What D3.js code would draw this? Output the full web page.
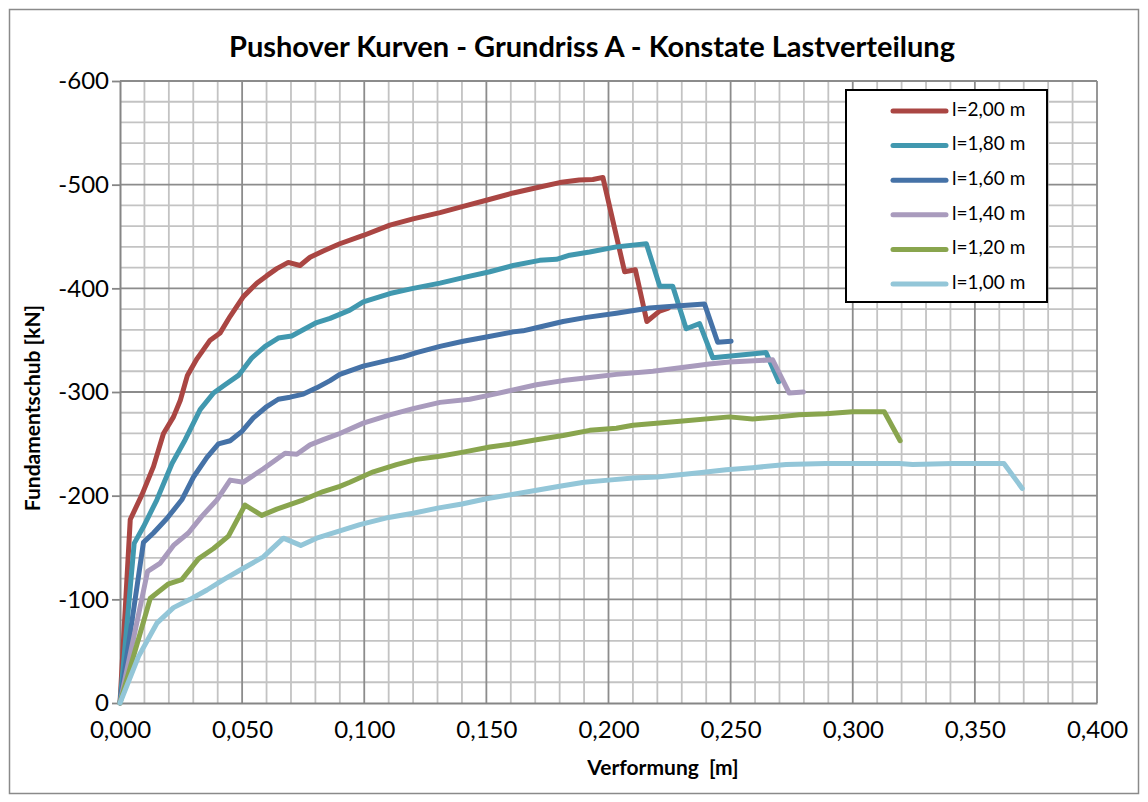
<!DOCTYPE html>
<html>
<head>
<meta charset="utf-8">
<script src="https://cdn.jsdelivr.net/npm/d3@7.9.0/dist/d3.min.js"></script>
<style>
  html, body { margin: 0; padding: 0; background: #fff; }
  svg { display: block; font-family: 'Lato', 'Open Sans', sans-serif; }
</style>
</head>
<body>
<svg id="chart" width="1148" height="802"></svg>
<script>
// Pushover curves: [Verformung m, Fundamentschub kN]
const curveL200 = [
  [0, 0], [0.0042, -177], [0.009, -201], [0.0137, -228], [0.0178, -260], [0.0219, -276],
  [0.0247, -292], [0.0276, -316], [0.0315, -332], [0.0369, -350], [0.041, -357], [0.0451, -373],
  [0.0505, -392], [0.056, -405], [0.060, -412], [0.0642, -419], [0.0689, -425], [0.0737, -422],
  [0.0778, -430], [0.0832, -436], [0.090, -443], [0.0996, -451], [0.1105, -461], [0.120, -467],
  [0.131, -473], [0.1405, -479], [0.150, -485], [0.161, -492], [0.1705, -497], [0.180, -502],
  [0.188, -504.5], [0.1936, -505], [0.1977, -507], [0.2066, -416], [0.211, -418], [0.2157, -368],
  [0.2209, -378], [0.2245, -381]
];
const curveL180 = [
  [0, 0], [0.0058, -154], [0.0096, -170], [0.0151, -196], [0.0213, -231], [0.0267, -254],
  [0.0328, -283], [0.0383, -299], [0.043, -307], [0.0485, -316], [0.054, -333], [0.0594, -344],
  [0.0648, -352], [0.0703, -354], [0.075, -360], [0.0805, -367], [0.086, -371], [0.0941, -379],
  [0.0996, -387], [0.1105, -395], [0.120, -400], [0.131, -405], [0.1419, -411], [0.1514, -416],
  [0.161, -422], [0.1718, -427], [0.1787, -428], [0.1841, -432], [0.1923, -435], [0.2032, -440],
  [0.2155, -443], [0.221, -402], [0.2263, -402], [0.2318, -361], [0.2373, -366], [0.2427, -333],
  [0.2645, -338], [0.2697, -310]
];
const curveL160 = [
  [0, 0], [0.0096, -155], [0.0137, -164], [0.0192, -178], [0.0253, -196], [0.0301, -218],
  [0.0356, -237], [0.0403, -250], [0.0451, -253], [0.0499, -262], [0.0546, -275], [0.0601, -286],
  [0.0648, -293], [0.0696, -295], [0.0751, -298], [0.0805, -304], [0.086, -311], [0.09, -317],
  [0.0996, -325], [0.1105, -331], [0.116, -334], [0.1214, -338], [0.131, -344], [0.1405, -349],
  [0.150, -353], [0.161, -358], [0.165, -359], [0.1705, -362], [0.1814, -368], [0.191, -372],
  [0.2032, -376], [0.2168, -381], [0.2277, -383], [0.2393, -385], [0.2447, -348], [0.2502, -349]
];
const curveL140 = [
  [0, 0], [0.0113, -127], [0.0165, -135], [0.0219, -152], [0.028, -164], [0.0335, -180],
  [0.0397, -196], [0.0451, -215], [0.0505, -213], [0.0587, -226], [0.0676, -241], [0.0724, -240],
  [0.0778, -249], [0.0832, -254], [0.09, -260], [0.0996, -270], [0.1105, -278], [0.120, -284],
  [0.131, -290], [0.1432, -293], [0.1514, -297], [0.161, -302], [0.1705, -307], [0.1814, -311],
  [0.1923, -314], [0.2032, -317], [0.2182, -320], [0.2413, -327], [0.2495, -329], [0.2672, -331],
  [0.274, -299], [0.2798, -300]
];
const curveL120 = [
  [0, 0], [0.0124, -101], [0.0199, -115], [0.0253, -119], [0.0321, -139], [0.0383, -149],
  [0.0444, -161], [0.0512, -191], [0.058, -181], [0.0642, -187], [0.0751, -196], [0.0832, -204],
  [0.090, -209], [0.0941, -213], [0.1037, -223], [0.1132, -230], [0.1214, -235], [0.131, -238],
  [0.1405, -242], [0.1514, -247], [0.161, -250], [0.1705, -254], [0.1814, -258], [0.1923, -263],
  [0.2032, -265], [0.21, -268], [0.2304, -272], [0.2495, -276], [0.259, -274], [0.2699, -276],
  [0.278, -278], [0.289, -279], [0.2999, -281], [0.3129, -281], [0.3194, -253]
];
const curveL100 = [
  [0, 0], [0.0076, -45], [0.0151, -77], [0.0219, -92], [0.0287, -100], [0.0356, -109],
  [0.0424, -119], [0.0505, -130], [0.0587, -141], [0.0669, -159], [0.074, -152], [0.0805, -159],
  [0.0887, -165], [0.0982, -172], [0.11, -179], [0.12, -183], [0.13, -188], [0.14, -192],
  [0.15, -197], [0.16, -201], [0.17, -205], [0.18, -209], [0.19, -213], [0.2, -215],
  [0.21, -217], [0.22, -218], [0.2372, -222], [0.2482, -225], [0.259, -227], [0.2727, -230],
  [0.289, -231], [0.3054, -231], [0.319, -231], [0.3245, -230], [0.3408, -231], [0.3619, -231],
  [0.3694, -207]
];

const seriesNames = ['l=2,00 m', 'l=1,80 m', 'l=1,60 m', 'l=1,40 m', 'l=1,20 m', 'l=1,00 m'];
const seriesData = [curveL200, curveL180, curveL160, curveL140, curveL120, curveL100];
const seriesColors = ['#AA4643', '#4198AF', '#4572A7', '#A99BBD', '#89A54E', '#93C6D8'];

const xTicks = [0, 0.05, 0.1, 0.15, 0.2, 0.25, 0.3, 0.35, 0.4];
const yTicks = [0, -100, -200, -300, -400, -500, -600];

const titleText = 'Pushover Kurven - Grundriss A - Konstate Lastverteilung';
const xTitle = 'Verformung  [m]';
const yTitle = 'Fundamentschub [kN]';

const svg = d3.select('#chart');
const plot = { left: 120, right: 1097, top: 81, bottom: 703 };

const x = d3.scaleLinear().domain([0, 0.4]).range([plot.left, plot.right]);
const y = d3.scaleLinear().domain([0, -600]).range([plot.bottom, plot.top]);

const de = d3.formatLocale({ decimal: ',', thousands: '.', grouping: [3], currency: ['', ' €'], minus: '-' });

// outer frame
svg.append('rect')
  .attr('x', 9.5).attr('y', 9.5).attr('width', 1129).attr('height', 784)
  .attr('fill', '#fff').attr('stroke', '#8a8a8a').attr('stroke-width', 1.5);

// minor grid
const minorX = d3.range(1, 40).filter((i) => i % 5 !== 0).map((i) => i / 100);
const minorY = d3.range(1, 30).filter((i) => i % 5 !== 0).map((i) => -i * 20);

const grid = svg.append('g');
grid.selectAll('.mx').data(minorX).join('line')
  .attr('x1', (d) => x(d)).attr('x2', (d) => x(d))
  .attr('y1', plot.top).attr('y2', plot.bottom)
  .attr('stroke', '#c3c3c3').attr('stroke-width', 1.8);
grid.selectAll('.my').data(minorY).join('line')
  .attr('y1', (d) => y(d)).attr('y2', (d) => y(d))
  .attr('x1', plot.left).attr('x2', plot.right)
  .attr('stroke', '#c3c3c3').attr('stroke-width', 1.8);

// major grid
grid.selectAll('.Mx').data(xTicks.slice(1)).join('line')
  .attr('x1', (d) => x(d)).attr('x2', (d) => x(d))
  .attr('y1', plot.top).attr('y2', plot.bottom)
  .attr('stroke', '#8c8c8c').attr('stroke-width', 1.8);
grid.selectAll('.My').data(yTicks.slice(1)).join('line')
  .attr('y1', (d) => y(d)).attr('y2', (d) => y(d))
  .attr('x1', plot.left).attr('x2', plot.right)
  .attr('stroke', '#8c8c8c').attr('stroke-width', 1.8);

// axes
const xAxis = svg.append('g')
  .attr('transform', `translate(0,${plot.bottom})`)
  .call(d3.axisBottom(x).tickValues(xTicks).tickFormat(de.format('.3f')).tickSize(0).tickPadding(18));
const yAxis = svg.append('g')
  .attr('transform', `translate(${plot.left},0)`)
  .call(d3.axisLeft(y).tickValues(yTicks).tickFormat(de.format('d')).tickSizeInner(8).tickSizeOuter(0).tickPadding(3));

[xAxis, yAxis].forEach((ax) => {
  ax.select('.domain').attr('stroke', '#868686').attr('stroke-width', 2);
  ax.selectAll('.tick line').attr('stroke', '#868686').attr('stroke-width', 1.8);
  ax.selectAll('.tick text')
    .attr('fill', '#000')
    .style('font-family', 'Lato, sans-serif')
    .style('font-size', '24px');
});

// series
const line = d3.line().x((d) => x(d[0])).y((d) => y(d[1]));
svg.append('g').selectAll('path').data(seriesData).join('path')
  .attr('d', line)
  .attr('fill', 'none')
  .attr('stroke', (d, i) => seriesColors[i])
  .attr('stroke-width', 5)
  .attr('stroke-linejoin', 'round')
  .attr('stroke-linecap', 'round');

// titles
svg.append('text')
  .attr('x', 592).attr('y', 50)
  .attr('text-anchor', 'middle').attr('dominant-baseline', 'middle')
  .style('font-weight', 'bold').style('font-size', '29px')
  .text(titleText);

svg.append('text')
  .attr('x', 663).attr('y', 770)
  .attr('text-anchor', 'middle').attr('dominant-baseline', 'middle')
  .style('font-weight', 'bold').style('font-size', '21px').style('white-space', 'pre')
  .text(xTitle);

svg.append('text')
  .attr('transform', 'translate(35,408) rotate(-90)')
  .attr('text-anchor', 'middle').attr('dominant-baseline', 'middle')
  .style('font-weight', 'bold').style('font-size', '21px')
  .text(yTitle);

// legend
const legend = svg.append('g');
legend.append('rect')
  .attr('x', 846).attr('y', 90).attr('width', 201).attr('height', 212)
  .attr('fill', '#fff').attr('stroke', '#000').attr('stroke-width', 2);

const items = legend.selectAll('g.item').data(seriesNames).join('g')
  .attr('class', 'item')
  .attr('transform', (d, i) => `translate(0,${111 + i * 34.6})`);
items.append('line')
  .attr('x1', 893).attr('x2', 946)
  .attr('stroke', (d, i) => seriesColors[i])
  .attr('stroke-width', 5).attr('stroke-linecap', 'round');
items.append('text')
  .attr('x', 952).attr('dominant-baseline', 'middle')
  .style('font-size', '19px')
  .text((d) => d);
</script>
</body>
</html>
